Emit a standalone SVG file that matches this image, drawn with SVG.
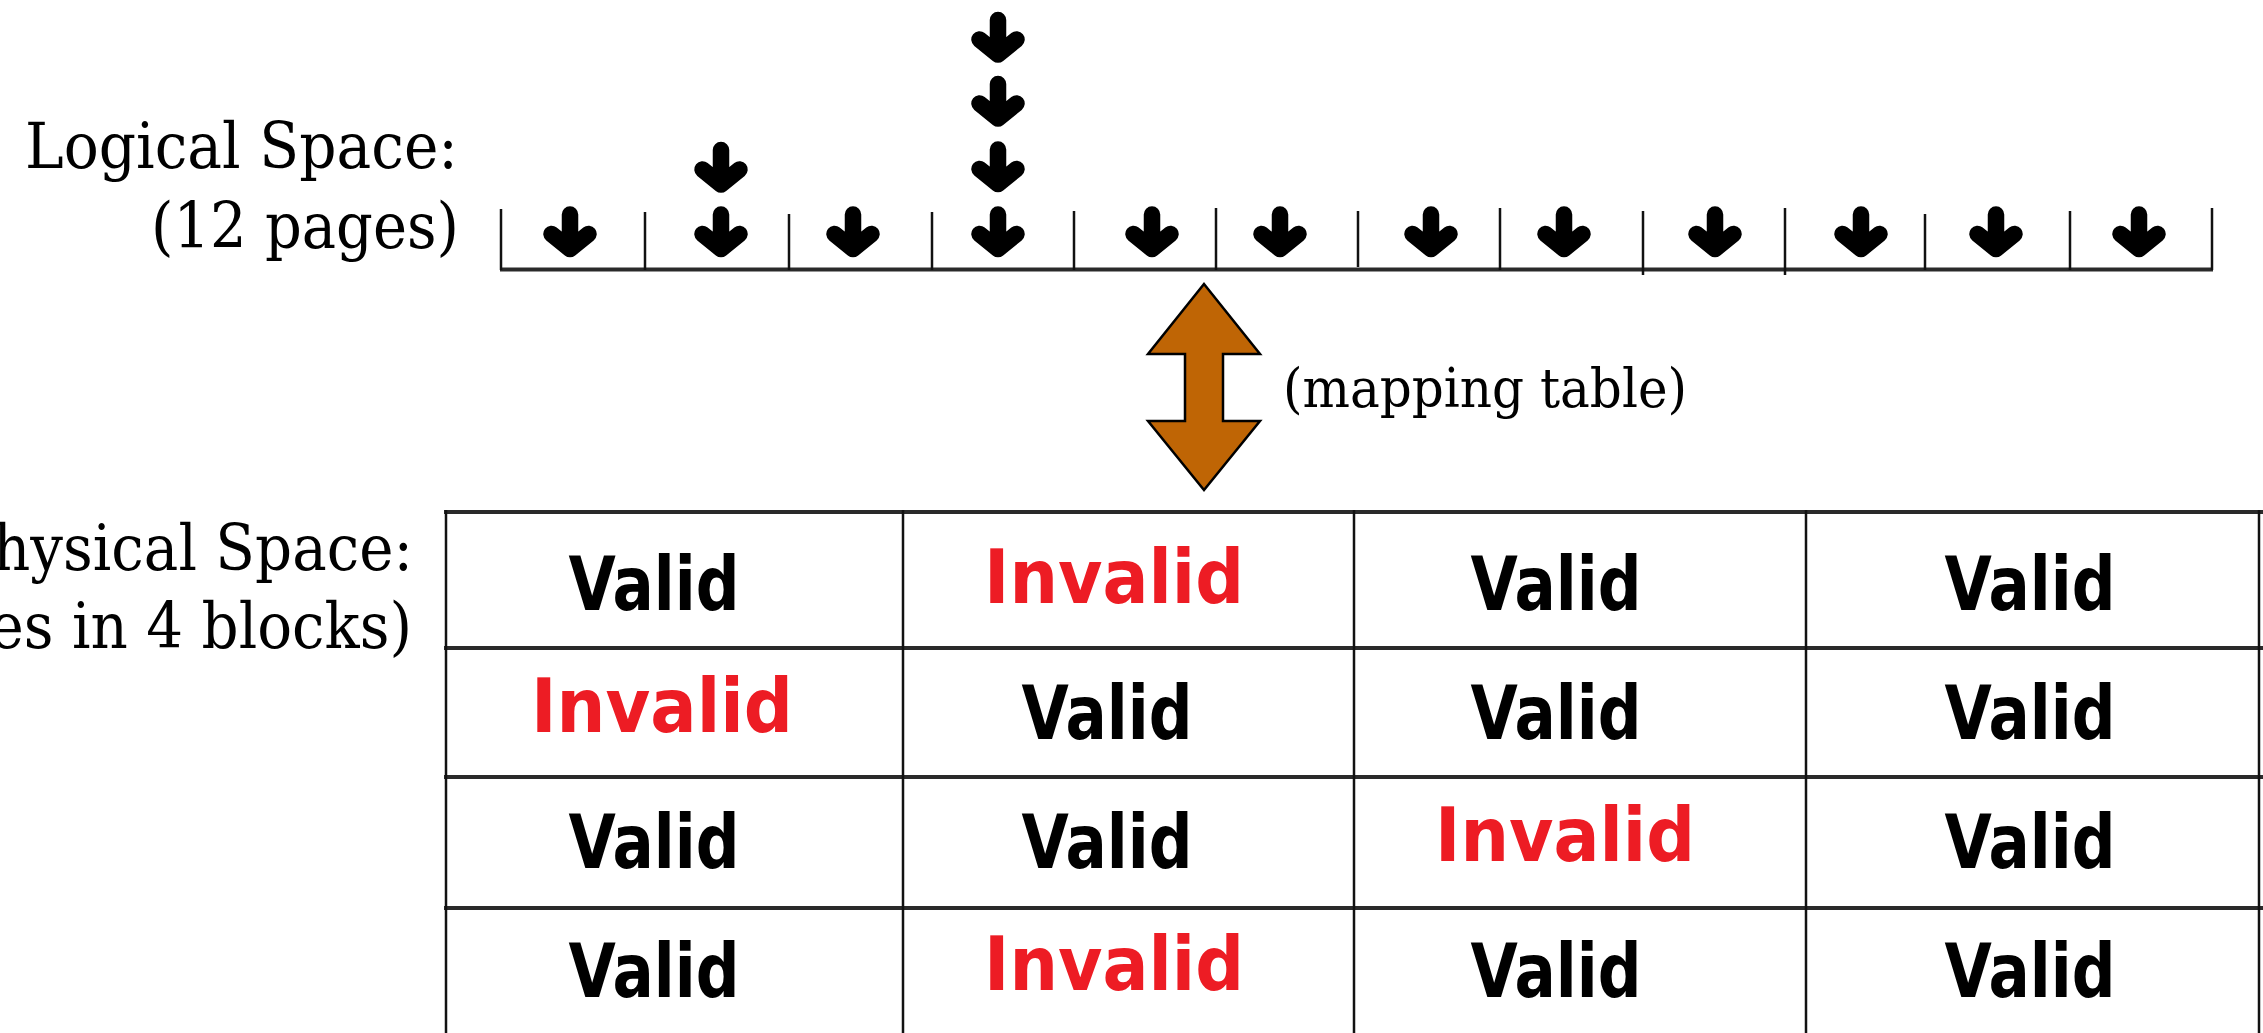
<svg xmlns="http://www.w3.org/2000/svg" width="2263" height="1033" viewBox="0 0 2263 1033">
<style>
.lbl{font-family:"DejaVu Serif","Liberation Serif",serif;fill:#000;}
.v{font-family:"DejaVu Sans","Liberation Sans",sans-serif;font-weight:bold;font-size:75px;fill:#000;text-anchor:middle;}
.inv{font-family:"DejaVu Sans","Liberation Sans",sans-serif;font-weight:bold;font-size:75px;fill:#ED1C24;text-anchor:middle;}
.hl{stroke:#2a2a2a;stroke-width:4;fill:none;}
.vl{stroke:#111;stroke-width:2.5;fill:none;}
.rl{stroke:#111;stroke-width:2.5;fill:none;}
</style>
<defs>
<g id="da">
<path d="M0,-17 V15 M-18.5,2.5 L0,17.5 L18.5,2.5" stroke="#000" stroke-width="16.5" stroke-linecap="round" stroke-linejoin="round" fill="none"/>
</g>
</defs>
<rect width="2263" height="1033" fill="#fff"/>

<g id="labels">
<text class="lbl" x="458" y="168" font-size="64" text-anchor="end" textLength="433" lengthAdjust="spacingAndGlyphs">Logical Space:</text>
<text class="lbl" x="459" y="248" font-size="64" text-anchor="end" textLength="308" lengthAdjust="spacingAndGlyphs">(12 pages)</text>
<text class="lbl" x="413" y="570" font-size="64" text-anchor="end" textLength="459" lengthAdjust="spacingAndGlyphs">Physical Space:</text>
<text class="lbl" x="412" y="648" font-size="64" text-anchor="end" textLength="646" lengthAdjust="spacingAndGlyphs">(16 pages in 4 blocks)</text>
<text class="lbl" x="1283" y="407" font-size="54" textLength="404" lengthAdjust="spacingAndGlyphs">(mapping table)</text>
</g>

<g id="logical-ruler">
<line class="hl" x1="500" y1="269.5" x2="2213" y2="269.5" stroke-width="3.5"/>
<line class="rl" x1="501" y1="209" x2="501" y2="270"/>
<line class="rl" x1="645" y1="212" x2="645" y2="270"/>
<line class="rl" x1="789" y1="214" x2="789" y2="270"/>
<line class="rl" x1="932" y1="212" x2="932" y2="270"/>
<line class="rl" x1="1074" y1="211" x2="1074" y2="270"/>
<line class="rl" x1="1216" y1="208" x2="1216" y2="270"/>
<line class="rl" x1="1358" y1="211" x2="1358" y2="267"/>
<line class="rl" x1="1500" y1="208" x2="1500" y2="270"/>
<line class="rl" x1="1643" y1="211" x2="1643" y2="275"/>
<line class="rl" x1="1785" y1="208" x2="1785" y2="275"/>
<line class="rl" x1="1925" y1="214" x2="1925" y2="270"/>
<line class="rl" x1="2070" y1="211" x2="2070" y2="270"/>
<line class="rl" x1="2212" y1="208" x2="2212" y2="270"/>
</g>

<g id="page-arrows">
<use href="#da" x="570" y="231.5"/>
<use href="#da" x="721" y="231.5"/>
<use href="#da" x="721" y="167"/>
<use href="#da" x="853" y="231.5"/>
<use href="#da" x="998" y="231.5"/>
<use href="#da" x="998" y="166.5"/>
<use href="#da" x="998" y="101"/>
<use href="#da" x="998" y="37"/>
<use href="#da" x="1152" y="231.5"/>
<use href="#da" x="1280" y="231.5"/>
<use href="#da" x="1431" y="231.5"/>
<use href="#da" x="1564" y="231.5"/>
<use href="#da" x="1715" y="231.5"/>
<use href="#da" x="1861" y="231.5"/>
<use href="#da" x="1996" y="231.5"/>
<use href="#da" x="2139" y="231.5"/>
</g>

<g id="connectors">
<polygon points="1204,284 1260,354 1223,354 1223,421 1260,421 1204,490 1148,421 1185,421 1185,354 1148,354" fill="#BF6505" stroke="#000" stroke-width="2.5" stroke-linejoin="miter"/>
</g>

<g id="physical-table">
<line class="hl" x1="444" y1="512" x2="2263" y2="512"/>
<line class="hl" x1="444" y1="648" x2="2263" y2="648"/>
<line class="hl" x1="444" y1="777" x2="2263" y2="777"/>
<line class="hl" x1="444" y1="908" x2="2263" y2="908"/>
<line class="vl" x1="446" y1="510" x2="446" y2="1033"/>
<line class="vl" x1="903" y1="510" x2="903" y2="1033"/>
<line class="vl" x1="1354" y1="510" x2="1354" y2="1033"/>
<line class="vl" x1="1806" y1="510" x2="1806" y2="1033"/>
<line class="vl" x1="2259" y1="510" x2="2259" y2="1033"/>
</g>

<g id="cell-r1c1"><text class="v" x="654" y="610" textLength="171" lengthAdjust="spacingAndGlyphs">Valid</text></g>
<g id="cell-r1c2"><text class="inv" x="1114" y="603" textLength="260" lengthAdjust="spacingAndGlyphs">Invalid</text></g>
<g id="cell-r1c3"><text class="v" x="1556" y="610" textLength="171" lengthAdjust="spacingAndGlyphs">Valid</text></g>
<g id="cell-r1c4"><text class="v" x="2030" y="610" textLength="171" lengthAdjust="spacingAndGlyphs">Valid</text></g>

<g id="cell-r2c1"><text class="inv" x="662" y="732" textLength="262" lengthAdjust="spacingAndGlyphs">Invalid</text></g>
<g id="cell-r2c2"><text class="v" x="1107" y="739" textLength="171" lengthAdjust="spacingAndGlyphs">Valid</text></g>
<g id="cell-r2c3"><text class="v" x="1556" y="739" textLength="171" lengthAdjust="spacingAndGlyphs">Valid</text></g>
<g id="cell-r2c4"><text class="v" x="2030" y="739" textLength="171" lengthAdjust="spacingAndGlyphs">Valid</text></g>

<g id="cell-r3c1"><text class="v" x="654" y="868" textLength="171" lengthAdjust="spacingAndGlyphs">Valid</text></g>
<g id="cell-r3c2"><text class="v" x="1107" y="868" textLength="171" lengthAdjust="spacingAndGlyphs">Valid</text></g>
<g id="cell-r3c3"><text class="inv" x="1565" y="861" textLength="260" lengthAdjust="spacingAndGlyphs">Invalid</text></g>
<g id="cell-r3c4"><text class="v" x="2030" y="868" textLength="171" lengthAdjust="spacingAndGlyphs">Valid</text></g>

<g id="cell-r4c1"><text class="v" x="654" y="997" textLength="171" lengthAdjust="spacingAndGlyphs">Valid</text></g>
<g id="cell-r4c2"><text class="inv" x="1114" y="990" textLength="260" lengthAdjust="spacingAndGlyphs">Invalid</text></g>
<g id="cell-r4c3"><text class="v" x="1556" y="997" textLength="171" lengthAdjust="spacingAndGlyphs">Valid</text></g>
<g id="cell-r4c4"><text class="v" x="2030" y="997" textLength="171" lengthAdjust="spacingAndGlyphs">Valid</text></g>
</svg>
